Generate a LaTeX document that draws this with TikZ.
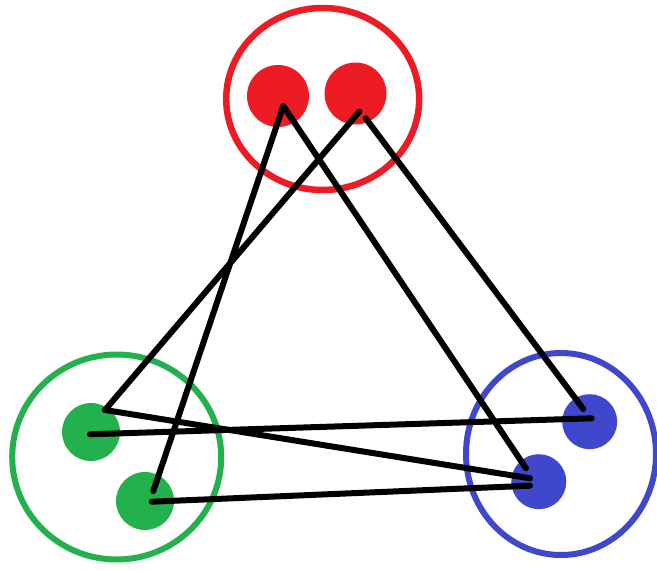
\documentclass[tikz,border=0pt]{standalone}
\definecolor{pred}{HTML}{ED1C24}
\definecolor{pgreen}{HTML}{22B14C}
\definecolor{pblue}{HTML}{3F48CC}
\tikzset{
  ring/.style={draw=#1, line width=6pt, ellipse-ish},
  ellipse-ish/.style={},
  dot/.style={circle, fill=#1, inner sep=0pt, minimum size=58pt},
  link/.style={draw=black, line width=6pt, line cap=round},
}
\begin{document}
\begin{tikzpicture}[x=1pt,y=-1pt]
\useasboundingbox (0,0) rectangle (657,571);
% rings
\draw[draw=pred, line width=6.5pt] (322.7,99) ellipse [x radius=96.5, y radius=91];
\draw[draw=pgreen, line width=6pt] (116.7,457) ellipse [x radius=104.5, y radius=102.5];
\draw[draw=pblue, line width=6pt] (561,454) ellipse [x radius=95, y radius=101];
% dots
\node[dot=pred, minimum size=62pt] (r1) at (278,96) {};
\node[dot=pred, minimum size=62pt] (r2) at (355.5,93.5) {};
\node[dot=pgreen, minimum size=58pt] (g1) at (91,432) {};
\node[dot=pgreen, minimum size=58pt] (g2) at (145,501) {};
\node[dot=pblue, minimum size=55pt] (b1) at (589.7,421.7) {};
\node[dot=pblue, minimum size=55pt] (b2) at (538.8,481.7) {};
% endpoints
\coordinate (r1a) at (283.3,106);
\coordinate (r2a) at (359.3,111.7);
\coordinate (r2b) at (365.7,118.3);
\coordinate (g1a) at (105,410);
\coordinate (g1b) at (90,434.3);
\coordinate (g2a) at (153.3,491);
\coordinate (g2b) at (151.7,501.7);
\coordinate (b1a) at (583.3,409);
\coordinate (b1b) at (591.7,418.3);
\coordinate (b2a) at (526,468.3);
\coordinate (b2b) at (530,478.3);
\coordinate (b2c) at (530,485.7);
% links
\draw[link] (r1a) -- (g2a);
\draw[link] (r1a) -- (b2a);
\draw[link] (r2a) -- (g1a);
\draw[link] (r2b) -- (b1a);
\draw[link] (g1b) -- (b1b);
\draw[link] (g1a) -- (b2b);
\draw[link] (g2b) -- (b2c);
\end{tikzpicture}
\end{document}
